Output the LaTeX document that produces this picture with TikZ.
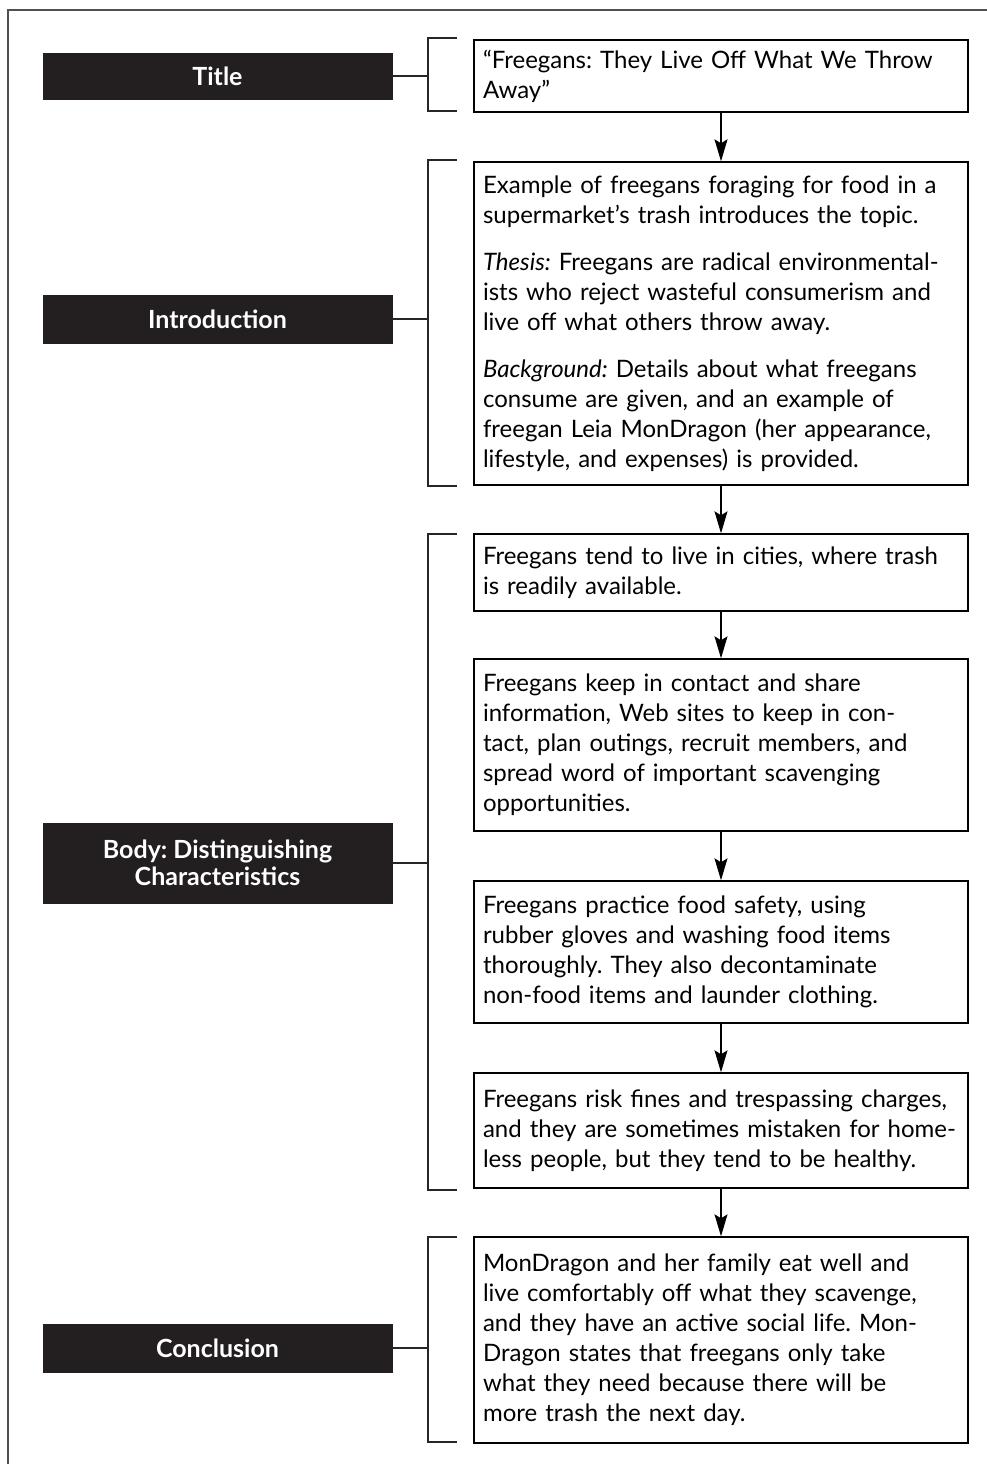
\documentclass[tikz,border=0pt]{standalone}
\usepackage{fontspec}
\setmainfont{Lato}
\usetikzlibrary{arrows.meta}
\definecolor{boxblack}{HTML}{231F20}
\definecolor{framegray}{HTML}{505050}
\frenchspacing
\begin{document}
\begin{tikzpicture}[x=1pt,y=-1pt,
  label/.style={fill=boxblack,draw=boxblack,text=white,minimum width=349pt,inner sep=0pt,
    font=\fontsize{25}{27}\selectfont\bfseries,align=center},
  content/.style={draw=black,line width=1.4pt,minimum width=494pt,text width=476pt,inner sep=9pt,
    align=left,font=\fontsize{24}{30}\selectfont},
  flow/.style={line width=1.2pt,-{Stealth[length=22pt,width=13pt,inset=4pt]}},
  brack/.style={line width=1.4pt,draw=black!85},
  link/.style={line width=1.4pt,draw=black!85}]
\useasboundingbox (0,0) rectangle (987,1464);
\draw[framegray,line width=2pt] (8,1480) -- (8,10) -- (1000,10);

% left labels
\node[label,minimum height=46pt] (lt) at (217.5,76) {Title};
\node[label,minimum height=48pt] (li) at (217.5,319) {Introduction};
\node[label,minimum height=80pt] (lb) at (217.5,863) {Body: Distinguishing\\Characteristics};
\node[label,minimum height=48pt] (lc) at (217.5,1348) {Conclusion};

% content boxes
\node[content,minimum height=72pt] (b1) at (721,76) {“Freegans: They Live Off What We Throw\\Away”};
\node[content,minimum height=323pt] (b2) at (721,323.5) {Example of freegans foraging for food in a\\supermarket’s trash introduces the topic.\\[17pt]\textit{Thesis:} Freegans are radical environmental-\\ists who reject wasteful consumerism and\\live off what others throw away.\\[17pt]\textit{Background:} Details about what freegans\\consume are given, and an example of\\freegan Leia MonDragon (her appearance,\\lifestyle, and expenses) is provided.};
\node[content,minimum height=77pt] (b3) at (721,572.5) {Freegans tend to live in cities, where trash\\is readily available.};
\node[content,minimum height=172pt] (b4) at (721,745) {Freegans keep in contact and share\\information, Web sites to keep in con-\\tact, plan outings, recruit members, and\\spread word of important scavenging\\opportunities.};
\node[content,minimum height=142pt] (b5) at (721,952) {Freegans practice food safety, using\\rubber gloves and washing food items\\thoroughly. They also decontaminate\\non-food items and launder clothing.};
\node[content,minimum height=115pt] (b6) at (721,1130.5) {Freegans risk fines and trespassing charges,\\and they are sometimes mistaken for home-\\less people, but they tend to be healthy.};
\node[content,minimum height=206pt] (b7) at (721,1340) {MonDragon and her family eat well and\\live comfortably off what they scavenge,\\and they have an active social life. Mon-\\Dragon states that freegans only take\\what they need because there will be\\more trash the next day.};

% arrows
\draw[flow] (b1) -- (b2);
\draw[flow] (b2) -- (b3);
\draw[flow] (b3) -- (b4);
\draw[flow] (b4) -- (b5);
\draw[flow] (b5) -- (b6);
\draw[flow] (b6) -- (b7);

% brackets
\coordinate (k1t) at (457,38);  \coordinate (k1b) at (457,111); \coordinate (k1m) at (428,76);
\coordinate (k2t) at (457,160); \coordinate (k2b) at (457,486); \coordinate (k2m) at (428,319);
\coordinate (k3t) at (457,534); \coordinate (k3b) at (457,1190); \coordinate (k3m) at (428,863);
\coordinate (k4t) at (457,1237); \coordinate (k4b) at (457,1442); \coordinate (k4m) at (428,1348);
\draw[brack] (k1t) -- (k1t -| k1m) -- (k1b -| k1m) -- (k1b);
\draw[brack] (k2t) -- (k2t -| k2m) -- (k2b -| k2m) -- (k2b);
\draw[brack] (k3t) -- (k3t -| k3m) -- (k3b -| k3m) -- (k3b);
\draw[brack] (k4t) -- (k4t -| k4m) -- (k4b -| k4m) -- (k4b);
\draw[link] (lt.east) -- (k1m);
\draw[link] (li.east) -- (k2m);
\draw[link] (lb.east) -- (k3m);
\draw[link] (lc.east) -- (k4m);
\end{tikzpicture}
\end{document}
